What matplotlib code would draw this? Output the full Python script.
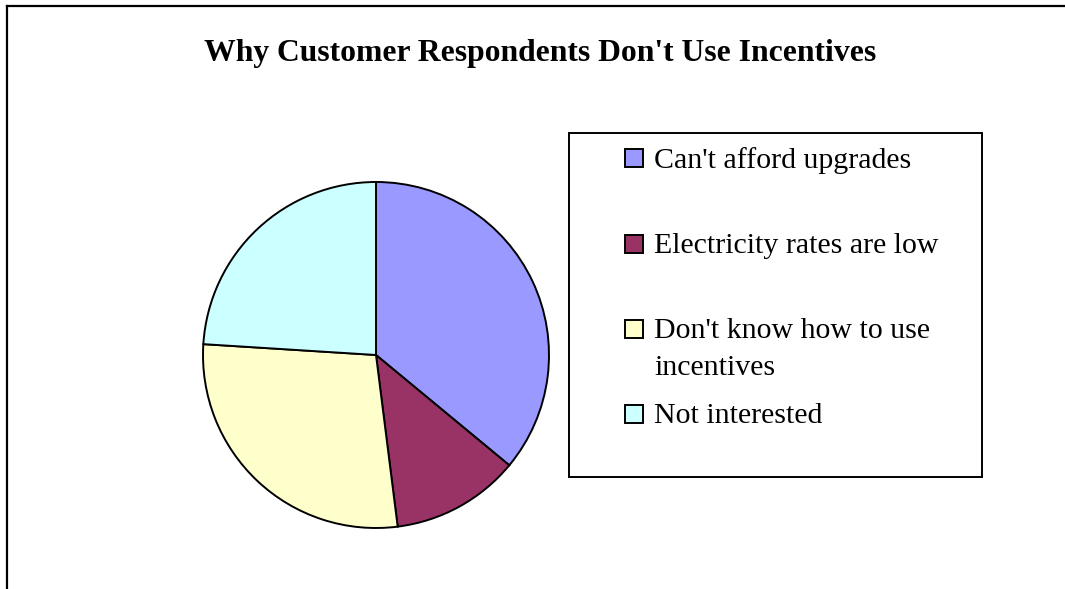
import matplotlib

matplotlib.use('agg')
import matplotlib.pyplot as plt
from matplotlib.lines import Line2D
from matplotlib.patches import Rectangle

title = "Why Customer Respondents Don't Use Incentives"
labels = ["Can't afford upgrades", "Electricity rates are low",
          "Don't know how to use\nincentives", "Not interested"]
shares = [36, 12, 28, 24]
colors = ['#9999FF', '#993366', '#FFFFCC', '#CCFFFF']

W, H = 1065, 589
plt.rcParams['font.family'] = ['Liberation Serif', 'DejaVu Serif']

fig = plt.figure(figsize=(W / 100, H / 100), dpi=100)


def fx(px):
    return px / W


def fy(py):
    return 1 - py / H


# chart border (only left and top edges visible)
fig.add_artist(Line2D([fx(7), fx(7)], [0, fy(6)], color='black', lw=1.6))
fig.add_artist(Line2D([fx(7), 1], [fy(6), fy(6)], color='black', lw=1.6))

fig.text(fx(540), fy(53), title, ha='center', va='center',
         fontsize=22.8, fontweight='bold')

# pie
ax = fig.add_axes([fx(203), fy(528), fx(346), 346 / H])
ax.pie(shares, colors=colors, startangle=90, counterclock=False, radius=1,
       wedgeprops=dict(edgecolor='black', linewidth=1.4))
ax.set_xlim(-1, 1)
ax.set_ylim(-1, 1)
ax.set_aspect('equal')
ax.axis('off')

# legend
fig.add_artist(Rectangle((fx(569), fy(477)), fx(982 - 569), (477 - 133) / H,
                         transform=fig.transFigure, facecolor='white',
                         edgecolor='black', lw=1.4))
entry_y = [158, 244, 329, 414]
for lab, col, yc in zip(labels, colors, entry_y):
    fig.add_artist(Rectangle((fx(625), fy(yc + 9)), fx(18), 18 / H,
                             transform=fig.transFigure, facecolor=col,
                             edgecolor='black', lw=1.4))
    fig.text(fx(654), fy(yc - 11), lab, ha='left', va='top',
             fontsize=21.5, linespacing=1.55)

fig.savefig('out.png', dpi=100)
